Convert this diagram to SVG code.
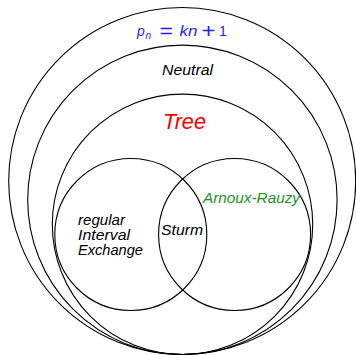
<svg xmlns="http://www.w3.org/2000/svg" width="356" height="355" viewBox="0 0 356 355">
  <style>
    .ring { fill: none; stroke: #000; stroke-width: 1.1; }
    .lbl { font-family: "Liberation Sans", "DejaVu Sans", sans-serif; font-style: italic; font-size: 14px; }
    .big { font-size: 22px; fill: #ff0000; }
    .math { font-family: "Liberation Sans", "DejaVu Sans", sans-serif; font-size: 14px; fill: #1f1fff; }
    .op { font-size: 20px; }
  </style>
  <rect width="356" height="355" fill="#fff"/>

  <!-- nested classes, all tangent at the bottom -->
  <g id="complexity">
    <circle class="ring" cx="182.2" cy="181" r="173.5"/>
    <text class="math" y="36">
      <tspan x="137" font-style="italic">p</tspan><tspan x="145.5" y="39" font-size="10" font-style="italic">n</tspan><tspan class="op" x="159.5" y="37.5" textLength="13.5" lengthAdjust="spacingAndGlyphs">=</tspan><tspan x="179.5" y="36" font-style="italic" textLength="18" lengthAdjust="spacingAndGlyphs">kn</tspan><tspan class="op" x="201.5" y="37.5" textLength="14" lengthAdjust="spacingAndGlyphs">+</tspan><tspan x="219" y="36">1</tspan>
    </text>
  </g>

  <g id="neutral">
    <circle class="ring" cx="182.4" cy="199.8" r="154.7"/>
    <text class="lbl" x="162" y="75" textLength="51" lengthAdjust="spacingAndGlyphs">Neutral</text>
  </g>

  <g id="tree">
    <circle class="ring" cx="182.5" cy="224.3" r="130.2"/>
    <text class="lbl big" x="163" y="129" textLength="43" lengthAdjust="spacingAndGlyphs">Tree</text>
  </g>

  <g id="interval-exchange">
    <circle class="ring" cx="130.8" cy="234.5" r="76"/>
    <text class="lbl" x="78" y="225" textLength="47" lengthAdjust="spacingAndGlyphs">regular</text>
    <text class="lbl" x="78" y="240" textLength="52" lengthAdjust="spacingAndGlyphs">Interval</text>
    <text class="lbl" x="78" y="255" textLength="65" lengthAdjust="spacingAndGlyphs">Exchange</text>
  </g>

  <g id="arnoux-rauzy">
    <circle class="ring" cx="234.6" cy="234.5" r="76"/>
    <text class="lbl" x="203" y="203" fill="#1a961a" textLength="97" lengthAdjust="spacingAndGlyphs">Arnoux-Rauzy</text>
  </g>

  <g id="sturm">
    <text class="lbl" x="161" y="235" textLength="42" lengthAdjust="spacingAndGlyphs">Sturm</text>
  </g>

  <g id="connectors"/>
</svg>
